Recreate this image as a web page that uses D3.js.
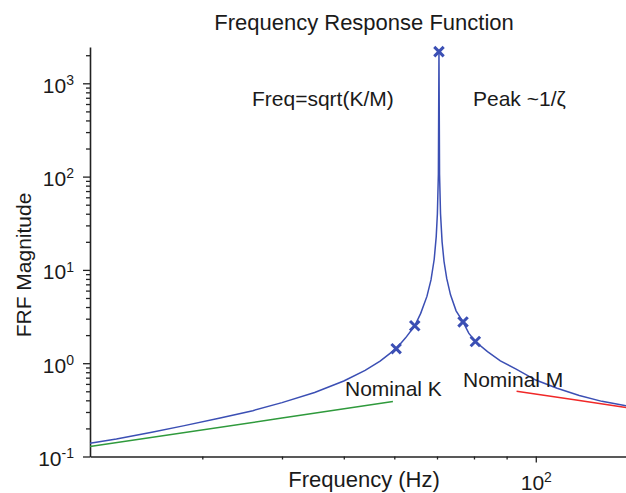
<!DOCTYPE html>
<html>
<head>
<meta charset="utf-8">
<script src="https://cdn.jsdelivr.net/npm/d3@7"></script>
<style>
  html, body { margin: 0; padding: 0; background: #fff; }
  svg { display: block; }
  text { font-family: "Liberation Sans", Arial, sans-serif; fill: #1a1a1a; }
</style>
</head>
<body>
<svg id="chart" width="626" height="493"></svg>
<script>
// ---- data ----
const frfFreq = [20, 22, 25, 28, 32, 36, 40, 45, 50, 54, 57, 60.4, 62.5, 64.6, 66, 67.5, 68.5, 69.3, 69.8, 70.1, 70.35, 70.5,
                 70.65, 70.9, 71.3, 71.8, 72.5, 73.5, 75, 76.9, 78.5, 80.4, 84, 88, 93, 100, 108, 117, 127, 138.5];
const frfMag  = [0.139, 0.154, 0.182, 0.213, 0.259, 0.31, 0.378, 0.486, 0.645, 0.838, 1.055, 1.43, 1.87, 2.52, 3.42, 5.2, 7.8, 13, 22.6, 40, 106, 2185,
                 106, 40, 20, 12.3, 8.1, 5.4, 3.64, 2.77, 2.1, 1.71, 1.33, 1.06, 0.87, 0.66, 0.54, 0.45, 0.39, 0.35];
const nominalKFreq = [20, 40, 59.7];
const nominalKMag  = [0.128, 0.258, 0.389];
const nominalMFreq = [93.3, 115, 138.5];
const nominalMMag  = [0.50, 0.405, 0.336];
const markerFreq = [60.4, 64.6, 70.5, 76.9, 80.4];
const markerMag  = [1.43, 2.52, 2185, 2.77, 1.71];
const yMajorExp = [-1, 0, 1, 2, 3];
const xMajorExp = [2];
const labels = {
  title: "Frequency Response Function",
  xLabel: "Frequency (Hz)",
  yLabel: "FRF Magnitude",
  freqNote: "Freq=sqrt(K/M)",
  peakNote: "Peak ~1/\u03B6",
  nomK: "Nominal K",
  nomM: "Nominal M"
};

// ---- layout ----
const svg = d3.select("#chart");
const x = d3.scaleLog().domain([20, 138.5]).range([90, 626]);
const y = d3.scaleLog().domain([0.1, 2450]).range([456.5, 47]);

const blue = "#3b4fb4", green = "#2f9a3c", red = "#f02828", axisColor = "#222";

// y ticks: 1..9 x 10^k
const yTicks = [];
for (let e = -1; e <= 3; e++) for (let m = 1; m <= 9; m++) {
  const v = m * Math.pow(10, e);
  if (v >= 0.1 && v <= 2450) yTicks.push(v);
}
const xTicks = [];
for (let e = 1; e <= 2; e++) for (let m = 1; m <= 9; m++) {
  const v = m * Math.pow(10, e);
  if (v > 20 && v <= 138.5) xTicks.push(v);
}
const isMajor = v => Math.abs(Math.log10(v) - Math.round(Math.log10(v))) < 1e-9;

// Y axis
const gy = svg.append("g").attr("transform", "translate(90,0)")
  .call(d3.axisLeft(y).tickValues(yTicks).tickSizeOuter(0).tickPadding(9).tickFormat(() => ""));
gy.select(".domain").attr("stroke", axisColor).attr("stroke-width", 1.6);
gy.selectAll(".tick line").attr("stroke", axisColor).attr("stroke-width", 1.3)
  .attr("x2", d => isMajor(d) ? -7 : -4);
gy.selectAll(".tick text").each(function(d) {
  if (!isMajor(d)) return;
  const e = Math.round(Math.log10(d));
  const t = d3.select(this).text(null).attr("font-size", 21).attr("dy", "0.42em").attr("x", -16);
  t.append("tspan").text("10");
  t.append("tspan").attr("dy", "-0.55em").attr("font-size", 14).text(e);
});

// X axis
const gx = svg.append("g").attr("transform", "translate(0,456.5)")
  .call(d3.axisBottom(x).tickValues(xTicks).tickSizeOuter(0).tickPadding(6).tickFormat(() => ""));
gx.select(".domain").attr("stroke", axisColor).attr("stroke-width", 1.6);
gx.selectAll(".tick line").attr("stroke", axisColor).attr("stroke-width", 1.3)
  .attr("y2", d => isMajor(d) ? 6 : 3);
gx.selectAll(".tick text").each(function(d) {
  if (!isMajor(d)) return;
  const e = Math.round(Math.log10(d));
  const t = d3.select(this).text(null).attr("font-size", 21).attr("dy", null).attr("y", 33).attr("text-anchor", "middle");
  t.append("tspan").text("10");
  t.append("tspan").attr("dy", "-0.55em").attr("font-size", 14).text(e);
});

// lines
const line = d3.line().x(d => x(d[0])).y(d => y(d[1]));
svg.append("path").datum(d3.zip(nominalKFreq, nominalKMag)).attr("d", line)
  .attr("fill", "none").attr("stroke", green).attr("stroke-width", 1.5);
svg.append("path").datum(d3.zip(nominalMFreq, nominalMMag)).attr("d", line)
  .attr("fill", "none").attr("stroke", red).attr("stroke-width", 1.5);
svg.append("path").datum(d3.zip(frfFreq, frfMag)).attr("d", line)
  .attr("fill", "none").attr("stroke", blue).attr("stroke-width", 1.5);

// markers
const sym = d3.symbol().type(d3.symbolTimes || d3.symbolX).size(60);
svg.selectAll(".mk").data(d3.zip(markerFreq, markerMag)).join("path")
  .attr("class", "mk")
  .attr("transform", d => `translate(${x(d[0])},${y(d[1])})`)
  .attr("d", sym)
  .attr("fill", "none").attr("stroke", blue).attr("stroke-width", 3);

// texts
svg.append("text").attr("x", 364).attr("y", 30).attr("text-anchor", "middle").attr("font-size", 22).text(labels.title);
svg.append("text").attr("x", 364).attr("y", 487).attr("text-anchor", "middle").attr("font-size", 22).text(labels.xLabel);
svg.append("text").attr("transform", "translate(31,265) rotate(-90)").attr("text-anchor", "middle").attr("font-size", 21).text(labels.yLabel);
svg.append("text").attr("x", 252).attr("y", 106).attr("font-size", 21).text(labels.freqNote);
svg.append("text").attr("x", 473).attr("y", 106).attr("font-size", 21).text(labels.peakNote);
svg.append("text").attr("x", 345).attr("y", 396).attr("font-size", 21).text(labels.nomK);
svg.append("text").attr("x", 463).attr("y", 387).attr("font-size", 21).text(labels.nomM);
</script>
</body>
</html>
